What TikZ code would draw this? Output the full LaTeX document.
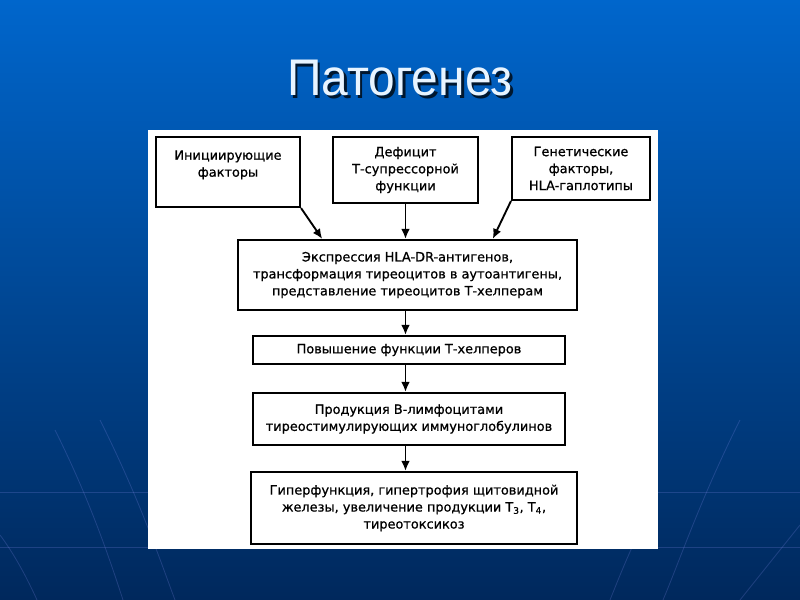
\documentclass[tikz,border=0pt]{standalone}
\usepackage{fontspec}
\setmainfont{DejaVu Sans}
\newfontfamily\blokfont[FakeBold=0.8]{DejaVu Sans}
\newfontfamily\zagfont{Liberation Sans}
\usetikzlibrary{arrows.meta,positioning,calc}
\definecolor{fonverh}{RGB}{0,102,204}
\definecolor{fonsred}{RGB}{0,76,158}
\definecolor{fonniz}{RGB}{0,40,92}
\definecolor{zagcol}{RGB}{232,244,255}
\tikzset{
  blok/.style={draw,line width=1.8pt,fill=white,align=center,inner sep=2pt,
    font=\blokfont\fontsize{11}{14.5}\selectfont},
  strelka/.style={line width=1.6pt,-{Latex[length=3mm,width=2.6mm]}},
  fonlin/.style={blue!40!white,opacity=0.2,line width=0.7pt},
  zag/.style={font=\zagfont\fontsize{44}{44}\selectfont,inner sep=0pt,xscale=0.93},
}

\begin{document}
\begin{tikzpicture}[x=0.03cm,y=-0.03cm]
  \useasboundingbox (0,0) rectangle (800,600);
  \shade[top color=fonverh,middle color=fonsred,bottom color=fonniz] (0,0) rectangle (800,600);
  % faint lines of the slide template
  \draw[fonlin] (0,492) -- (800,492);
  \draw[fonlin] (0,547) -- (800,547);
  \draw[fonlin] (55,430) .. controls (90,500) and (110,560) .. (123,600);
  \draw[fonlin] (100,420) .. controls (140,500) and (160,560) .. (175,600);
  \draw[fonlin] (0,535) .. controls (15,555) and (28,580) .. (37,600);
  \draw[fonlin] (740,420) .. controls (700,500) and (680,560) .. (663,600);
  \draw[fonlin] (645,520) .. controls (630,550) and (620,575) .. (610,600);
  \draw[fonlin] (800,525) .. controls (780,550) and (760,575) .. (740,600);
  % title with shadow
  \node[zag,text=black,opacity=0.75] (zagten) at (402.5,81) {Патогенез};
  \node[zag,text=zagcol] (zagolovok) at (400,78) {Патогенез};
  % white sheet
  \fill[white] (148,130) rectangle (658,549);
  % boxes
  \node[blok,minimum width=122.9pt,minimum height=59.8pt] (b1) at (228,172)
    {Инициирующие\\факторы\\\mbox{}};
  \node[blok,minimum width=123.8pt,minimum height=56.3pt] (b2) at (405.5,170)
    {Дефицит\\Т-супрессорной\\функции};
  \node[blok,minimum width=117.8pt,minimum height=53.8pt] (b3) at (581,168.5)
    {Генетические\\факторы,\\HLA-гаплотипы};
  \node[blok,minimum width=289.4pt,minimum height=59.8pt] (b4) at (407.5,275)
    {Экспрессия HLA-DR-антигенов,\\трансформация тиреоцитов в аутоантигены,\\представление тиреоцитов Т-хелперам};
  \node[blok,minimum width=266.3pt,minimum height=23.9pt] (b5) at (409,350)
    {Повышение функции Т-хелперов};
  \node[blok,minimum width=266.3pt,minimum height=44.4pt] (b6) at (409,419)
    {Продукция В-лимфоцитами\\тиреостимулирующих иммуноглобулинов};
  \node[blok,minimum width=278.3pt,minimum height=61.5pt] (b7) at (414,508)
    {Гиперфункция, гипертрофия щитовидной\\железы, увеличение продукции T\textsubscript{3}, T\textsubscript{4},\\тиреотоксикоз};
  % arrows
  \draw[strelka] (b1.south east) -- ($(b4.north west)!0.25!(b4.north east)$);
  \draw[strelka] (b2.south) -- (b2.south |- b4.north);
  \draw[strelka] (b3.south west) -- ($(b4.north west)!0.75!(b4.north east)$);
  \draw[strelka] (b4.south -| b2) -- (b5.north -| b2);
  \draw[strelka] (b5.south -| b2) -- (b6.north -| b2);
  \draw[strelka] (b6.south -| b2) -- (b7.north -| b2);
\end{tikzpicture}
\end{document}
